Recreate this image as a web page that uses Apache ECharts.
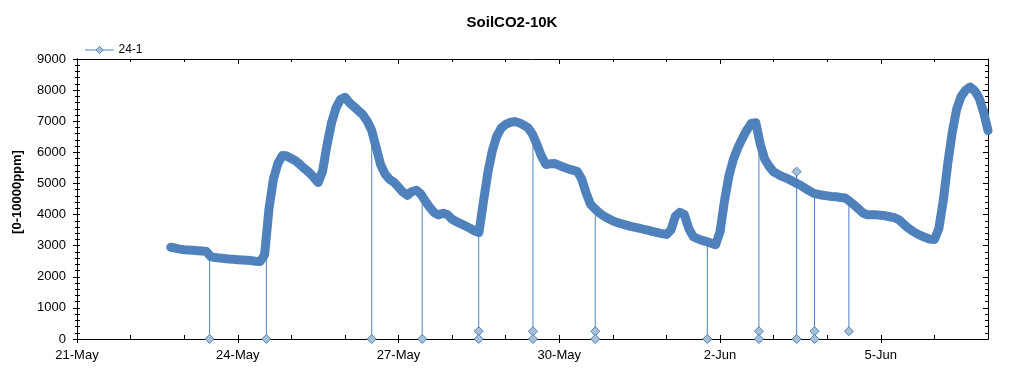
<!DOCTYPE html>
<html>
<head>
<meta charset="utf-8">
<title>SoilCO2-10K</title>
<script src="https://cdn.jsdelivr.net/npm/echarts@6/dist/echarts.min.js"></script>
<style>
    html, body {margin: 0; padding: 0; background: #fff;}
    #box1 {width: 1024px; height: 375px;}
</style>
</head>
<body>
<div id="box1"></div>
<script>
//x = hours after 21-May 00:00
var axisMonthDay = [21, 4]; //21-May
var tickHours = 72;
var axisMaxHours = 408;

//curve, one reading every 2 hours from hour 42
var sampleStart = 42;
var sampleStep = 2;
var co2Values = [
    2950, 2920, 2890, 2870, 2860, 2850, 2840, 2830, 2810, 2640,
    2620, 2600, 2590, 2570, 2560, 2550, 2540, 2530, 2520, 2500,
    2490, 2700, 4200, 5150, 5650, 5900, 5880, 5800, 5720, 5600,
    5470, 5350, 5200, 5030, 5400, 6250, 6950, 7430, 7700, 7770,
    7600, 7470, 7340, 7210, 7000, 6700, 6150, 5600, 5300, 5130,
    5040, 4880, 4720, 4620, 4740, 4780, 4660, 4430, 4230, 4060,
    3990, 4040, 3990, 3850, 3770, 3700, 3630, 3560, 3480, 3420,
    4400, 5350, 6050, 6520, 6780, 6900, 6960, 6990, 6950, 6880,
    6790, 6580, 6250, 5880, 5610, 5630, 5640, 5580, 5520, 5470,
    5430, 5390, 5150, 4700, 4330, 4180, 4050, 3950, 3870, 3800,
    3740, 3700, 3660, 3620, 3590, 3560, 3520, 3490, 3450, 3420,
    3390, 3360, 3500, 3950, 4070, 4000, 3550, 3290, 3220, 3170,
    3130, 3080, 3030, 3450, 4450, 5250, 5780, 6150, 6450, 6720,
    6930, 6950, 6270, 5780, 5550, 5370, 5290, 5220, 5160, 5090,
    5010, 4940, 4850, 4760, 4680, 4650, 4620, 4600, 4580, 4570,
    4550, 4530, 4430, 4310, 4180, 4050, 3990, 3990, 3990, 3980,
    3960, 3930, 3900, 3840, 3710, 3580, 3480, 3390, 3320, 3260,
    3210, 3200, 3550, 4470, 5650, 6650, 7400, 7800, 8000, 8100,
    7980, 7750, 7300, 6700
];

//bad readings: time, curve value there, fallen values
var dropHours = [59.4, 84.8, 132.0, 154.6, 179.9, 204.2, 232.1, 282.3, 305.4, 322.3, 330.3, 345.7];
var dropTops = [2700, 3250, 6600, 4630, 3420, 6500, 4180, 3130, 6400, 5000, 4680, 4480];
var dropLows = [[0], [0], [0], [0], [250, 0], [250, 0], [250, 0], [0], [250, 0], [5380, 0], [250, 0], [250]];

var monthNames = ['Jan', 'Feb', 'Mar', 'Apr', 'May', 'Jun', 'Jul', 'Aug', 'Sep', 'Oct', 'Nov', 'Dec'];
var fontFamily = '"Liberation Sans", Arial, sans-serif';
var blue = '#4f81bd';
var pale = '#a9bfd4';

function hourLabel(v) {
    var d = new Date(2024, axisMonthDay[1], axisMonthDay[0] + v / 24);
    return d.getDate() + '-' + monthNames[d.getMonth()];
}

var curveData = [];
co2Values.forEach(function (v, i) {
    curveData.push([sampleStart + i * sampleStep, v]);
});

var dropData = [];
dropHours.forEach(function (h, i) {
    dropData.push({value: [h, dropTops[i]], symbol: 'none'});
    dropLows[i].forEach(function (low) {
        dropData.push([h, low]);
    });
    dropData.push('-');
});

var tickAxis = function (extra) {
    var base = {
        type: 'value',
        min: 0,
        axisLine: {show: true, onZero: false, lineStyle: {color: '#000', width: 1}},
        axisLabel: {show: false},
        splitLine: {show: false}
    };
    for (var k in extra) base[k] = extra[k];
    return base;
};

var box1_chart = echarts.init(document.getElementById('box1'));
var option = {
    animation: false,
    backgroundColor: '#fff',
    title: {
        text: 'SoilCO2-10K',
        left: 'center',
        top: 10,
        textStyle: {fontFamily: fontFamily, fontSize: 15, fontWeight: 'bold', color: '#000'}
    },
    legend: {
        data: ['24-1'],
        left: 80,
        top: 39,
        itemWidth: 28,
        itemHeight: 9,
        itemGap: 8,
        textStyle: {fontFamily: fontFamily, fontSize: 12, color: '#000'},
        lineStyle: {width: 1, color: blue},
        itemStyle: {color: pale, borderColor: blue, borderWidth: 1}
    },
    grid: {left: 77, right: 36, top: 59, bottom: 36},
    xAxis: [
        tickAxis({
            position: 'bottom', max: axisMaxHours, interval: tickHours,
            axisTick: {show: true, inside: false, length: 4, lineStyle: {color: '#000'}},
            axisLabel: {
                show: true, margin: 10, showMaxLabel: false, color: '#000',
                fontFamily: fontFamily, fontSize: 13, formatter: hourLabel
            }
        }),
        tickAxis({
            position: 'bottom', max: axisMaxHours, interval: tickHours,
            axisTick: {show: true, inside: true, length: 4, lineStyle: {color: '#000'}},
            minorTick: {show: true, splitNumber: 3, length: 4, lineStyle: {color: '#000'}}
        }),
        tickAxis({
            position: 'top', max: axisMaxHours, interval: tickHours,
            axisTick: {show: true, inside: true, length: 5, lineStyle: {color: '#000'}},
            minorTick: {show: true, splitNumber: 3, length: 3, lineStyle: {color: '#000'}}
        })
    ],
    yAxis: [
        tickAxis({
            position: 'left', max: 9000, interval: 1000,
            name: '[0-10000ppm]', nameLocation: 'middle', nameGap: 53,
            nameTextStyle: {fontFamily: fontFamily, fontSize: 13, fontWeight: 'bold', color: '#000', padding: [0, 0, 0, 14]},
            axisTick: {show: true, inside: false, length: 4, lineStyle: {color: '#000'}},
            minorTick: {show: true, splitNumber: 5, length: 2, lineStyle: {color: '#000'}},
            axisLabel: {
                show: true, margin: 11, color: '#000', fontFamily: fontFamily, fontSize: 13,
                formatter: function (v) { return String(v); }
            }
        }),
        tickAxis({
            position: 'left', max: 9000, interval: 1000,
            axisTick: {show: true, inside: true, length: 3, lineStyle: {color: '#000'}},
            minorTick: {show: true, splitNumber: 5, length: 3, lineStyle: {color: '#000'}}
        }),
        tickAxis({
            position: 'right', max: 9000, interval: 1000,
            axisTick: {show: true, inside: true, length: 5, lineStyle: {color: '#000'}},
            minorTick: {show: true, splitNumber: 5, length: 3, lineStyle: {color: '#000'}}
        })
    ],
    series: [
        {
            name: '24-1',
            type: 'line',
            data: curveData,
            symbol: 'diamond',
            showSymbol: false,
            lineStyle: {color: blue, width: 9, cap: 'round', join: 'round'},
            itemStyle: {color: blue},
            z: 2
        },
        {
            name: '24-1',
            type: 'line',
            data: dropData,
            symbol: 'diamond',
            symbolSize: 9,
            showAllSymbol: true,
            connectNulls: false,
            lineStyle: {color: blue, width: 1},
            itemStyle: {color: pale, borderColor: blue, borderWidth: 1},
            z: 3
        }
    ]
};
box1_chart.setOption(option);
</script>
</body>
</html>
